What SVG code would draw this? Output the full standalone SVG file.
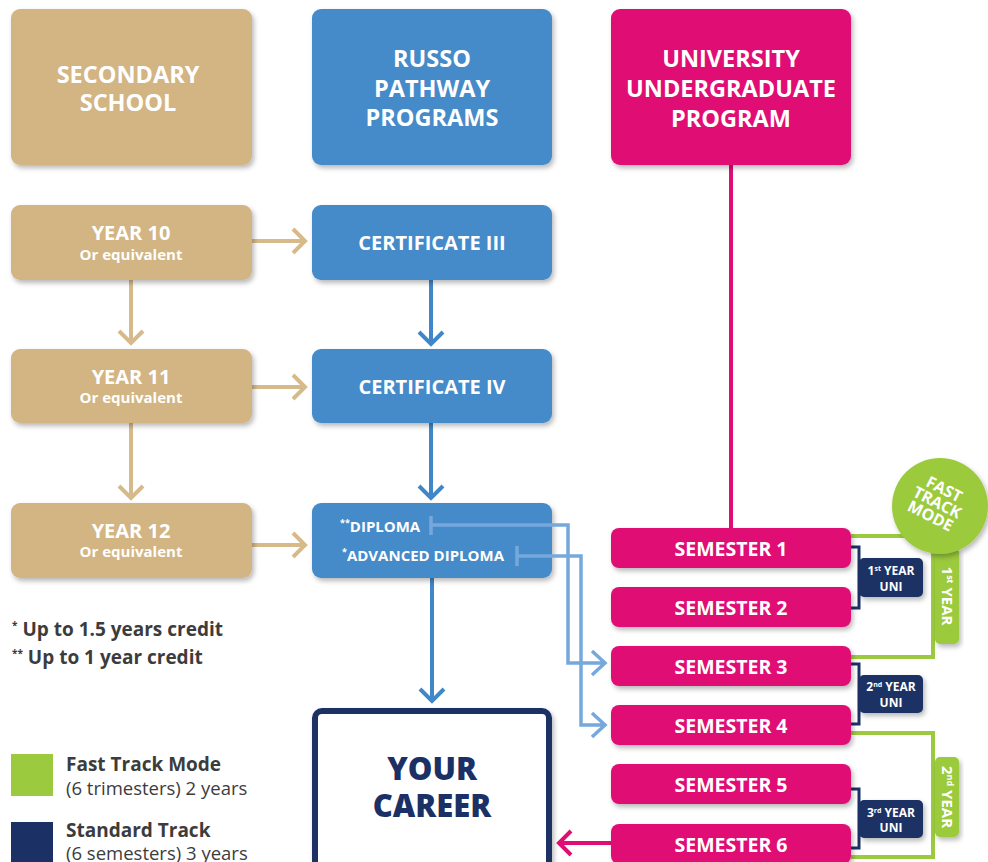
<svg xmlns="http://www.w3.org/2000/svg" width="988" height="862" viewBox="0 0 988 862">
<defs>
<filter id="sh" x="-10%" y="-10%" width="130%" height="140%"><feDropShadow dx="2" dy="3" stdDeviation="2.5" flood-color="#000" flood-opacity="0.28"/></filter>
<style>
.t{font-family:"Open Sans","Liberation Sans",sans-serif;font-weight:700;fill:#fff;text-anchor:middle}
.h{font-size:23.5px}
.m{font-size:20px}
.s{font-size:15px}
.sem{font-size:19.5px}
.lab{font-size:12px}
.tan{fill:#d2b583}
.blu{fill:#458ac9}
.pnk{fill:#e00d74}
.nav{fill:#1b3065}
.grn{fill:#9bca3e}
.ct{stroke:#d7ba8a;stroke-width:4;fill:none}
.cb{stroke:#3f87c8;stroke-width:4;fill:none}
.cl{stroke:#76a8dc;stroke-width:3.5;fill:none}
.cp{stroke:#e00d74;stroke-width:4;fill:none}
.cn{stroke:#1b3065;stroke-width:3;fill:none}
.cg{stroke:#9bca3e;stroke-width:4;fill:none}
.lg{font-family:"Open Sans","Liberation Sans",sans-serif;fill:#3c3c3c}
</style>
</defs>
<rect width="988" height="862" fill="#fff"/>

<g id="connectors">
<path class="ct" d="M252,241 H305 M293,229 L305,241 L293,253"/>
<path class="ct" d="M252,387 H305 M293,375 L305,387 L293,399"/>
<path class="ct" d="M252,545 H305 M293,533 L305,545 L293,557"/>
<path class="ct" d="M131,280 V343 M119,331 L131,343 L143,331"/>
<path class="ct" d="M131,423 V498 M119,486 L131,498 L143,486"/>
<path class="cb" d="M431,280 V344 M419,332 L431,344 L443,332"/>
<path class="cb" d="M431,423 V498 M419,486 L431,498 L443,486"/>
<path class="cb" d="M432,578 V701 M420,689 L432,701 L444,689"/>
<path class="cp" d="M731,165 V528"/>
<path class="cp" d="M611,843 H559 M571,831 L559,843 L571,855"/>
<path class="cn" d="M851,547 H859 V608 H851"/>
<path class="cn" d="M851,664 H859 V724 H851"/>
<path class="cn" d="M851,789 H859 V848 H851"/>
<path class="cg" d="M851,536 H933 V657 H851"/>
<path class="cg" d="M851,733 H933 V857 H851"/>
</g>

<g id="secondary-school"><rect x="11" y="9" width="241" height="156" rx="9" class="tan" filter="url(#sh)"/><text class="t h" x="128" y="83">SECONDARY</text><text class="t h" x="128" y="111">SCHOOL</text></g>
<g id="russo"><rect x="312" y="9" width="240" height="156" rx="9" class="blu" filter="url(#sh)"/><text class="t h" x="432" y="67">RUSSO</text><text class="t h" x="432" y="97">PATHWAY</text><text class="t h" x="432" y="126">PROGRAMS</text></g>
<g id="university"><rect x="611" y="9" width="240" height="156" rx="9" class="pnk" filter="url(#sh)"/><text class="t h" x="731" y="67">UNIVERSITY</text><text class="t h" x="731" y="97">UNDERGRADUATE</text><text class="t h" x="731" y="127">PROGRAM</text></g>

<g id="year10"><rect x="11" y="205" width="241" height="75" rx="9" class="tan" filter="url(#sh)"/><text class="t m" x="131" y="240">YEAR 10</text><text class="t s" x="131" y="260">Or equivalent</text></g>
<g id="year11"><rect x="11" y="349" width="241" height="74" rx="9" class="tan" filter="url(#sh)"/><text class="t m" x="131" y="384">YEAR 11</text><text class="t s" x="131" y="403">Or equivalent</text></g>
<g id="year12"><rect x="11" y="503" width="241" height="75" rx="9" class="tan" filter="url(#sh)"/><text class="t m" x="131" y="538">YEAR 12</text><text class="t s" x="131" y="557">Or equivalent</text></g>

<g id="cert3"><rect x="312" y="205" width="240" height="75" rx="9" class="blu" filter="url(#sh)"/><text class="t m" x="432" y="250">CERTIFICATE III</text></g>
<g id="cert4"><rect x="312" y="349" width="240" height="74" rx="9" class="blu" filter="url(#sh)"/><text class="t m" x="432" y="394">CERTIFICATE IV</text></g>
<g id="diploma"><rect x="312" y="503" width="240" height="75" rx="9" class="blu" filter="url(#sh)"/>
<text class="t s" x="340" y="532" style="text-anchor:start"><tspan font-size="9" dy="-6">**</tspan><tspan dy="6">DIPLOMA</tspan></text>
<text class="t s" x="342" y="561" style="text-anchor:start"><tspan font-size="9" dy="-6">*</tspan><tspan dy="6">ADVANCED DIPLOMA</tspan></text>
</g>
<g id="diploma-links">
<path class="cl" d="M431,516 V535 M431,525 H568 V663 H605 M592,651 L605,663 L592,675"/>
<path class="cl" d="M517,546 V566 M517,556 H581 V725 H605 M592,713 L605,725 L592,737"/>
</g>

<g id="career"><rect x="315" y="711" width="234" height="160" rx="7" fill="#fff" stroke="#1b3065" stroke-width="6" filter="url(#sh)"/><text class="t" x="432" y="780" style="font-size:31px;font-weight:800;fill:#1b3065">YOUR</text><text class="t" x="432" y="817" style="font-size:31px;font-weight:800;fill:#1b3065">CAREER</text></g>

<g id="sem1"><rect x="611" y="528" width="240" height="40" rx="8" class="pnk" filter="url(#sh)"/><text class="t sem" x="731" y="556">SEMESTER 1</text></g>
<g id="sem2"><rect x="611" y="587" width="240" height="40" rx="8" class="pnk" filter="url(#sh)"/><text class="t sem" x="731" y="615">SEMESTER 2</text></g>
<g id="sem3"><rect x="611" y="646" width="240" height="40" rx="8" class="pnk" filter="url(#sh)"/><text class="t sem" x="731" y="674">SEMESTER 3</text></g>
<g id="sem4"><rect x="611" y="705" width="240" height="40" rx="8" class="pnk" filter="url(#sh)"/><text class="t sem" x="731" y="733">SEMESTER 4</text></g>
<g id="sem5"><rect x="611" y="764" width="240" height="40" rx="8" class="pnk" filter="url(#sh)"/><text class="t sem" x="731" y="792">SEMESTER 5</text></g>
<g id="sem6"><rect x="611" y="824" width="240" height="40" rx="8" class="pnk" filter="url(#sh)"/><text class="t sem" x="731" y="852">SEMESTER 6</text></g>

<g id="uni1"><rect x="859" y="558" width="64" height="39" rx="5" class="nav" filter="url(#sh)"/><text class="t lab" x="891" y="575">1<tspan font-size="7" dy="-4">st</tspan><tspan dy="4"> YEAR</tspan></text><text class="t lab" x="891" y="591">UNI</text></g>
<g id="uni2"><rect x="859" y="675" width="64" height="38" rx="5" class="nav" filter="url(#sh)"/><text class="t lab" x="891" y="691">2<tspan font-size="7" dy="-4">nd</tspan><tspan dy="4"> YEAR</tspan></text><text class="t lab" x="891" y="707">UNI</text></g>
<g id="uni3"><rect x="859" y="800" width="64" height="38" rx="5" class="nav" filter="url(#sh)"/><text class="t lab" x="891" y="817">3<tspan font-size="7" dy="-4">rd</tspan><tspan dy="4"> YEAR</tspan></text><text class="t lab" x="891" y="832">UNI</text></g>

<g id="fast1"><rect x="935" y="548" width="24" height="96" rx="5" class="grn" filter="url(#sh)"/><text class="t" style="font-size:15px" transform="translate(942 596) rotate(90)">1<tspan font-size="9" dy="-5">st</tspan><tspan dy="5"> YEAR</tspan></text></g>
<g id="fast2"><rect x="935" y="757" width="24" height="80" rx="5" class="grn" filter="url(#sh)"/><text class="t" style="font-size:15px" transform="translate(942 797) rotate(90)">2<tspan font-size="9" dy="-5">nd</tspan><tspan dy="5"> YEAR</tspan></text></g>

<g id="fast-track-mode"><circle cx="940" cy="506" r="48" class="grn" filter="url(#sh)"/>
<g transform="translate(937 503) rotate(27)"><text class="t" style="font-size:16px" x="0" y="-10">FAST</text><text class="t" style="font-size:16px" x="0" y="5">TRACK</text><text class="t" style="font-size:16px" x="0" y="20">MODE</text></g></g>

<g id="legend">
<text class="lg" x="12" y="636" style="font-size:19px;font-weight:700"><tspan font-size="10" dy="-7">*</tspan><tspan dy="7"> Up to 1.5 years credit</tspan></text>
<text class="lg" x="12" y="664" style="font-size:19px;font-weight:700"><tspan font-size="10" dy="-7">**</tspan><tspan dy="7"> Up to 1 year credit</tspan></text>
<rect x="11" y="754" width="42" height="42" class="grn"/>
<text class="lg" x="66" y="771" style="font-size:19px;font-weight:700">Fast Track Mode</text>
<text class="lg" x="66" y="795" style="font-size:18.5px">(6 trimesters) 2 years</text>
<rect x="11" y="822" width="42" height="42" class="nav"/>
<text class="lg" x="66" y="837" style="font-size:19px;font-weight:700">Standard Track</text>
<text class="lg" x="66" y="860" style="font-size:18.5px">(6 semesters) 3 years</text>
</g>
</svg>
